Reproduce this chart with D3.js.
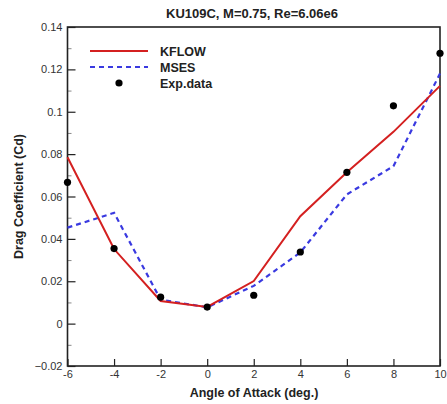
<!DOCTYPE html>
<html>
<head>
<meta charset="utf-8">
<script src="https://cdn.jsdelivr.net/npm/d3@7"></script>
<style>
  html, body { margin: 0; padding: 0; background: #fff; }
  svg { display: block; font-family: Arial, "Liberation Sans", sans-serif; }
</style>
</head>
<body>
<svg id="chart" width="447" height="404"></svg>
<script>
// Angle of attack (deg.)
const alpha = [-6, -4, -2, 0, 2, 4, 6, 8, 10];
// Drag coefficient from each source
const kflow = [0.0785, 0.0352, 0.0107, 0.0079, 0.0201, 0.0507, 0.0714, 0.0905, 0.1122];
const mses  = [0.0453, 0.0523, 0.0113, 0.0077, 0.0178, 0.0336, 0.0610, 0.0743, 0.1180];
const expData = [0.0667, 0.0354, 0.0125, 0.0078, 0.0134, 0.0338, 0.0714, 0.1028, 0.1276];

const xTicks = [-6, -4, -2, 0, 2, 4, 6, 8, 10];
const yTicks = [-0.02, 0, 0.02, 0.04, 0.06, 0.08, 0.1, 0.12, 0.14];
const yMinorTicks = [-0.01, 0.01, 0.03, 0.05, 0.07, 0.09, 0.11, 0.13];

const margin = { left: 67.5, right: 7, top: 27, bottom: 38 };
const W = 447, H = 404;
const svg = d3.select("#chart");

const x = d3.scaleLinear().domain([-6, 10]).range([margin.left, W - margin.right]);
const y = d3.scaleLinear().domain([-0.02, 0.14]).range([H - margin.bottom, margin.top]);

const fmt = d => d === 0 ? "0" : d3.format("")(+d.toFixed(2));

// Bottom axis: ticks point up into the plot
const xAxis = svg.append("g")
  .attr("transform", `translate(0,${y(-0.02)})`)
  .call(d3.axisBottom(x).tickValues(xTicks).tickSize(-7).tickPadding(4).tickFormat(d => d));
xAxis.select(".domain").remove();
xAxis.selectAll("line").attr("stroke", "#222").attr("stroke-width", 1.2);
xAxis.selectAll("text").attr("font-size", 11).attr("fill", "#333").attr("dy", "0.75em").attr("y", 4);

// Left axis: major and minor ticks point right into the plot
const yAxis = svg.append("g")
  .attr("transform", `translate(${x(-6)},0)`)
  .call(d3.axisLeft(y).tickValues(yTicks).tickSize(-8).tickPadding(6).tickFormat(fmt));
yAxis.select(".domain").remove();
yAxis.selectAll("line").attr("stroke", "#222").attr("stroke-width", 1.2);
yAxis.selectAll("text").attr("font-size", 11).attr("fill", "#333").attr("x", -5);

svg.append("g")
  .attr("transform", `translate(${x(-6)},0)`)
  .call(d3.axisLeft(y).tickValues(yMinorTicks).tickSize(-4).tickFormat(""))
  .call(g => g.select(".domain").remove())
  .selectAll("line").attr("stroke", "#888").attr("stroke-width", 1);

// Frame
svg.append("rect")
  .attr("x", x(-6)).attr("y", y(0.14))
  .attr("width", x(10) - x(-6)).attr("height", y(-0.02) - y(0.14))
  .attr("fill", "none").attr("stroke", "#222").attr("stroke-width", 1.6);

const line = d3.line().x((d, i) => x(alpha[i])).y(d => y(d));

svg.append("path").datum(mses)
  .attr("d", line).attr("fill", "none")
  .attr("stroke", "#3a3ae0").attr("stroke-width", 2.2)
  .attr("stroke-dasharray", "5,4");

svg.append("path").datum(kflow)
  .attr("d", line).attr("fill", "none")
  .attr("stroke", "#d42020").attr("stroke-width", 2);

svg.append("g").selectAll("circle").data(expData).join("circle")
  .attr("cx", (d, i) => x(alpha[i])).attr("cy", d => y(d))
  .attr("r", 3.6).attr("fill", "#000");

// Legend
const lg = svg.append("g");
lg.append("line").attr("x1", 90).attr("x2", 148).attr("y1", 51).attr("y2", 51)
  .attr("stroke", "#d42020").attr("stroke-width", 2);
lg.append("line").attr("x1", 90).attr("x2", 148).attr("y1", 67).attr("y2", 67)
  .attr("stroke", "#3a3ae0").attr("stroke-width", 2.2).attr("stroke-dasharray", "5,4");
lg.append("circle").attr("cx", 119).attr("cy", 83).attr("r", 3.6).attr("fill", "#000");
const legendLabels = ["KFLOW", "MSES", "Exp.data"];
lg.selectAll("text").data(legendLabels).join("text")
  .attr("x", 160).attr("y", (d, i) => 51 + i * 16)
  .attr("dy", "0.36em").attr("font-size", 12.5).attr("font-weight", "bold").attr("fill", "#222")
  .text(d => d);

// Title and axis labels
svg.append("text").attr("x", 252).attr("y", 18).attr("text-anchor", "middle")
  .attr("font-size", 13).attr("font-weight", "bold").attr("fill", "#222")
  .text("KU109C, M=0.75, Re=6.06e6");

svg.append("text").attr("x", 254).attr("y", 397).attr("text-anchor", "middle")
  .attr("font-size", 12.5).attr("font-weight", "bold").attr("fill", "#222")
  .text("Angle of Attack (deg.)");

svg.append("text")
  .attr("transform", `translate(23,${(y(0.14) + y(-0.02)) / 2}) rotate(-90)`)
  .attr("text-anchor", "middle")
  .attr("font-size", 12.5).attr("font-weight", "bold").attr("fill", "#222")
  .text("Drag Coefficient (Cd)");
</script>
</body>
</html>
